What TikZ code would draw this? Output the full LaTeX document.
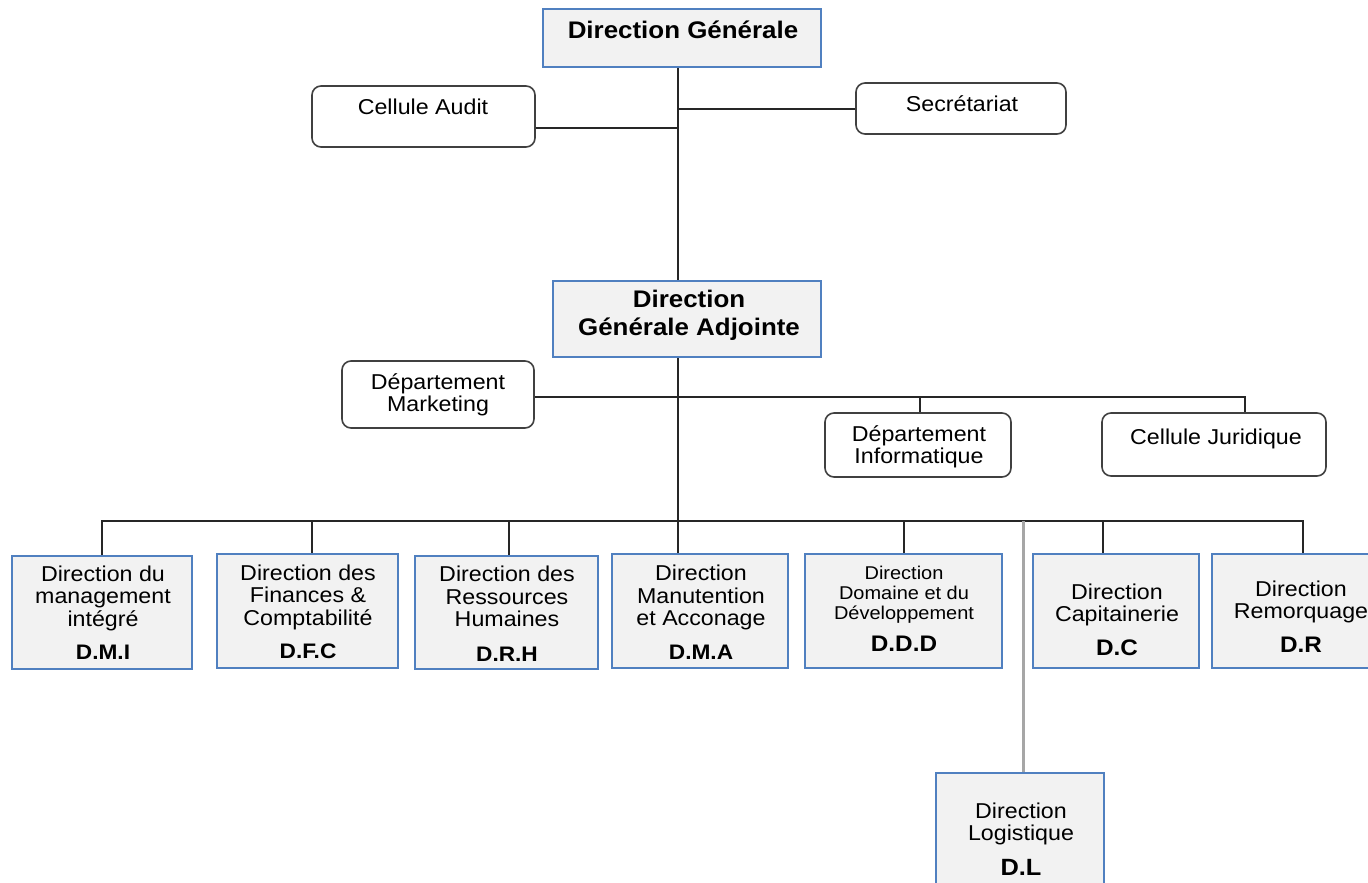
\documentclass[tikz,border=0pt]{standalone}
\usepackage{fontspec}
\setmainfont{Liberation Sans}[FakeStretch=1.08]
\definecolor{boxfill}{HTML}{F2F2F2}
\definecolor{boxline}{HTML}{5080C0}
\definecolor{roundline}{HTML}{404040}
\definecolor{linkgray}{HTML}{A6A6A6}
\definecolor{linkdark}{HTML}{262626}
\newcommand{\abbr}[2][21]{{\bfseries\fontsize{#1}{24}\selectfont #2}}

\begin{document}
\begin{tikzpicture}[x=1pt,y=-1pt,
  dirbox/.style={draw=boxline, fill=boxfill, line width=2pt, inner sep=0pt},
  unitbox/.style={draw=roundline, fill=white, line width=1.6pt, rounded corners=9pt, inner sep=0pt},
  title/.style={align=center, inner sep=0pt, font=\bfseries\fontsize{24}{28}\selectfont},
  txt/.style={align=center, inner sep=0pt, font=\fontsize{21.5}{22.5}\selectfont},
  smalltxt/.style={align=center, inner sep=0pt, font=\fontsize{18.5}{20}\selectfont},
  link/.style={draw=linkdark, line width=2pt},
  graylink/.style={draw=linkgray, line width=3pt},
]
\useasboundingbox (0,0) rectangle (1368,883);
\clip (0,0) rectangle (1368,883);

% --- top management
\node[dirbox, minimum width=278pt, minimum height=58pt] (dg) at (682,38) {};
\node[title] (dg-t) at (683,30) {Direction Générale};

\node[unitbox, minimum width=223pt, minimum height=61pt] (audit) at (423.5,116.5) {};
\node[txt] (audit-t) at (423,107) {Cellule Audit};

\node[unitbox, minimum width=210pt, minimum height=51pt] (sec) at (961,108.5) {};
\node[txt] (sec-t) at (962,104) {Secrétariat};

\node[dirbox, minimum width=268pt, minimum height=76pt] (dga) at (687,319) {};
\node[title] (dga-t) at (689,315) {Direction\\Générale Adjointe};

% --- staff units of the deputy direction
\node[unitbox, minimum width=192pt, minimum height=67pt] (mkt) at (438,394.5) {};
\node[txt] (mkt-t) at (438,395) {Département\\Marketing};

\node[unitbox, minimum width=186pt, minimum height=64pt] (info) at (918,445) {};
\node[txt] (info-t) at (919,447) {Département\\Informatique};

\node[unitbox, minimum width=224pt, minimum height=63pt] (cj) at (1214,444.5) {};
\node[txt] (cj-t) at (1216,439) {Cellule Juridique};

% --- operational directions
\node[dirbox, minimum width=180pt, minimum height=113pt] (dmi) at (102,612.5) {};
\node[txt] (dmi-t) at (103,612.5) {Direction du\\management\\intégré\\[11pt]\abbr{D.M.I}};

\node[dirbox, minimum width=181pt, minimum height=114pt] (dfc) at (307.5,611) {};
\node[txt] (dfc-t) at (308,612) {Direction des\\Finances \&\\Comptabilité\\[11pt]\abbr{D.F.C}};

\node[dirbox, minimum width=183pt, minimum height=113pt] (drh) at (506.5,612.5) {};
\node[txt] (drh-t) at (507,613.5) {Direction des\\Ressources\\Humaines\\[12pt]\abbr{D.R.H}};

\node[dirbox, minimum width=176pt, minimum height=114pt] (dma) at (700,611) {};
\node[txt] (dma-t) at (701,612) {Direction\\Manutention\\et Acconage\\[11pt]\abbr{D.M.A}};

\node[dirbox, minimum width=197pt, minimum height=114pt] (ddd) at (903.5,611) {};
\node[smalltxt] (ddd-t) at (904,608.5) {Direction\\Domaine et du\\Développement\\[12pt]\abbr[22.5]{D.D.D}};

\node[dirbox, minimum width=166pt, minimum height=114pt] (dc) at (1116,611) {};
\node[txt] (dc-t) at (1117,619.5) {Direction\\Capitainerie\\[11pt]\abbr[22.5]{D.C}};

\node[dirbox, minimum width=178pt, minimum height=114pt] (dr) at (1301,611) {};
\node[txt] (dr-t) at (1301,616.5) {Direction\\Remorquage\\[11pt]\abbr[22.5]{D.R}};

\node[dirbox, minimum width=168pt, minimum height=122pt] (dl) at (1020,834) {};
\node[txt] (dl-t) at (1021,839) {Direction\\Logistique\\[12pt]\abbr[23.5]{D.L}};

% --- connectors
\coordinate (spine) at (678,0);
\draw[link] (dg.south -| spine) -- (dga.north -| spine);
\draw[link] (sec.west) -- (sec.west -| spine);
\draw[link] ([yshift=-11.5pt]audit.east) -- ([yshift=-11.5pt]audit.east -| spine);

\coordinate (bar) at ([yshift=-2.5pt]mkt.east);
\coordinate (cjdrop) at ([xshift=31pt]cj.north);
\coordinate (infodrop) at ([xshift=2pt]info.north);
\draw[link] (bar) -| (cjdrop);
\draw[link] (infodrop |- bar) -- (infodrop);

\coordinate (bus) at ([yshift=34pt]dmi.north);
\draw[link] (dga.south -| spine) -- (dma.north -| spine);
\draw[link] (dmi.north) -- (dmi.north |- bus) -- ([xshift=2pt]dr.north |- bus) -- ([xshift=2pt]dr.north);
\draw[link] ([xshift=4.5pt]dfc.north |- bus) -- ([xshift=4.5pt]dfc.north);
\draw[link] ([xshift=2.5pt]drh.north |- bus) -- ([xshift=2.5pt]drh.north);
\draw[link] (ddd.north |- bus) -- (ddd.north);
\draw[link] ([xshift=-13pt]dc.north |- bus) -- ([xshift=-13pt]dc.north);
\draw[graylink] ([xshift=3.5pt]dl.north |- bus) -- ([xshift=3.5pt]dl.north);
\end{tikzpicture}
\end{document}
